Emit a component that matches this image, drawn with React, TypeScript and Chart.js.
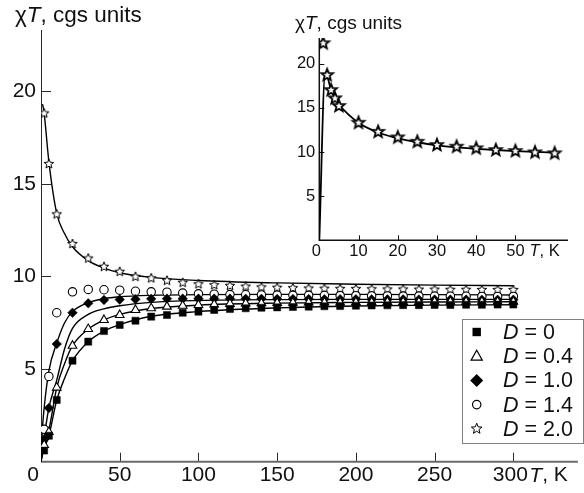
import React, { useEffect, useRef } from 'react';
import { Chart, registerables } from 'chart.js';
Chart.register(...registerables);

// ---------- main panel: measured points ----------
const mainT = [2, 5, 10, 20, 30, 40, 50, 60, 70, 80, 90, 100, 110, 120, 130, 140, 150, 160, 170, 180, 190, 200, 210, 220, 230, 240, 250, 260, 270, 280, 290, 300];
const chiT_D00 = [0.6, 1.4, 3.33, 5.45, 6.48, 7.05, 7.38, 7.61, 7.83, 7.92, 8.04, 8.1, 8.19, 8.24, 8.28, 8.31, 8.33, 8.35, 8.37, 8.39, 8.4, 8.42, 8.43, 8.44, 8.45, 8.45, 8.46, 8.46, 8.47, 8.47, 8.48, 8.48];
const chiT_D04 = [0.9, 1.6, 4.0, 6.26, 7.16, 7.65, 7.92, 8.19, 8.28, 8.37, 8.42, 8.46, 8.49, 8.52, 8.54, 8.56, 8.57, 8.58, 8.59, 8.6, 8.6, 8.61, 8.61, 8.62, 8.62, 8.62, 8.63, 8.63, 8.63, 8.63, 8.64, 8.64];
const chiT_D10 = [1.2, 2.9, 6.35, 8.04, 8.55, 8.73, 8.75, 8.77, 8.79, 8.8, 8.8, 8.8, 8.8, 8.8, 8.79, 8.79, 8.78, 8.78, 8.78, 8.77, 8.77, 8.77, 8.76, 8.76, 8.76, 8.75, 8.75, 8.75, 8.75, 8.74, 8.74, 8.74];
const chiT_D14 = [1.75, 4.6, 8.04, 9.17, 9.3, 9.28, 9.26, 9.2, 9.17, 9.15, 9.1, 9.06, 9.04, 9.02, 9.01, 9.0, 8.99, 8.98, 8.98, 8.97, 8.96, 8.96, 8.95, 8.95, 8.94, 8.94, 8.93, 8.93, 8.93, 8.92, 8.92, 8.92];
const chiT_D20 = [18.8, 16.07, 13.35, 11.75, 10.97, 10.52, 10.25, 9.98, 9.9, 9.77, 9.66, 9.58, 9.53, 9.49, 9.45, 9.41, 9.39, 9.37, 9.35, 9.34, 9.33, 9.32, 9.31, 9.3, 9.3, 9.29, 9.29, 9.28, 9.28, 9.27, 9.27, 9.27];

// ---------- main panel: fitted curves ----------
const fitT = [0, 1, 2, 5, 10, 15, 20, 30, 40, 50, 70, 100, 150, 200, 250, 300];
const fit_D00 = [0, 0.4, 0.7, 1.4, 3.33, 4.5, 5.45, 6.48, 7.05, 7.4, 7.85, 8.1, 8.3, 8.4, 8.45, 8.47];
const fit_D04 = [0, 0.5, 0.9, 1.7, 4.0, 5.3, 6.26, 7.16, 7.65, 7.95, 8.27, 8.45, 8.56, 8.6, 8.62, 8.63];
const fit_D10 = [0, 0.7, 1.3, 2.9, 4.4, 6.1, 7.2, 7.95, 8.25, 8.42, 8.6, 8.7, 8.75, 8.76, 8.76, 8.76];
const fit_D14 = [0, 1.9, 2.9, 4.9, 6.4, 7.5, 8.1, 8.58, 8.8, 8.9, 8.98, 9.02, 9.03, 9.03, 9.02, 9.0];
const fit_D20 = [null, 19.3, 18.8, 16.2, 13.4, 12.3, 11.6, 10.85, 10.45, 10.2, 9.95, 9.78, 9.65, 9.58, 9.53, 9.5];

// ---------- inset (D = 2.0, low T) ----------
const insetT = [1, 2, 3, 4, 5, 10, 15, 20, 25, 30, 35, 40, 45, 50, 55, 60];
const insetChiT = [22.3, 18.7, 17.0, 16.07, 15.2, 13.3, 12.28, 11.65, 11.15, 10.78, 10.59, 10.41, 10.21, 10.1, 9.95, 9.84];
const insetFitT = [0, 1.5, 2, 3, 4, 5, 10, 15, 20, 25, 30, 35, 40, 45, 50, 55, 60];
const insetFit = [0, 18.9, 18.6, 17.0, 16.1, 15.4, 13.3, 12.2, 11.55, 11.1, 10.75, 10.52, 10.36, 10.22, 10.1, 10.0, 9.92];

// ---------- ticks / labels ----------
const mainXTicks = [0, 50, 100, 150, 200, 250, 300];
const mainYTicks = [5, 10, 15, 20];
const insetXTicks = [0, 10, 20, 30, 40, 50];
const insetYTicks = [5, 10, 15, 20];
const legendD = ['0', '0.4', '1.0', '1.4', '2.0'];
const markerKinds = ['square', 'triangle', 'diamond', 'circle', 'star'];

const FONT = "'Liberation Sans', Arial, Helvetica, sans-serif";
const fnt = (size: number, italic = false) => `${italic ? 'italic ' : ''}${size}px ${FONT}`;

function drawParts(ctx: CanvasRenderingContext2D, x: number, y: number, parts: Array<[string, boolean]>, size: number) {
  ctx.textAlign = 'left';
  let cx = x;
  for (const [t, it] of parts) {
    ctx.font = fnt(size, it);
    ctx.fillText(t, cx, y);
    cx += ctx.measureText(t).width;
  }
}

function starPath(ctx: CanvasRenderingContext2D, cx: number, cy: number, R: number, r: number) {
  ctx.beginPath();
  for (let i = 0; i < 10; i++) {
    const ang = -Math.PI / 2 + (i * Math.PI) / 5;
    const rad = i % 2 === 0 ? R : r;
    const px = cx + rad * Math.cos(ang);
    const py = cy + rad * Math.sin(ang);
    if (i === 0) ctx.moveTo(px, py); else ctx.lineTo(px, py);
  }
  ctx.closePath();
}

function makeStar(R: number, r: number, lw: number) {
  const s = Math.ceil(2 * R + lw + 3);
  const c = document.createElement('canvas');
  c.width = s; c.height = s;
  const g = c.getContext('2d')!;
  starPath(g, s / 2, s / 2, R, r);
  g.fillStyle = '#fff'; g.fill();
  g.lineWidth = lw; g.strokeStyle = '#000'; g.lineJoin = 'miter'; g.stroke();
  return c;
}

function drawMarker(ctx: CanvasRenderingContext2D, kind: string, cx: number, cy: number) {
  ctx.save();
  ctx.strokeStyle = '#000'; ctx.fillStyle = '#000'; ctx.lineWidth = 1.2;
  if (kind === 'square') {
    ctx.fillRect(cx - 4.2, cy - 4.2, 8.4, 8.4);
  } else if (kind === 'triangle') {
    ctx.beginPath(); ctx.moveTo(cx, cy - 6); ctx.lineTo(cx + 5.6, cy + 4); ctx.lineTo(cx - 5.6, cy + 4); ctx.closePath();
    ctx.fillStyle = '#fff'; ctx.fill(); ctx.stroke();
  } else if (kind === 'diamond') {
    ctx.beginPath(); ctx.moveTo(cx, cy - 6.5); ctx.lineTo(cx + 6.5, cy); ctx.lineTo(cx, cy + 6.5); ctx.lineTo(cx - 6.5, cy); ctx.closePath();
    ctx.fill();
  } else if (kind === 'circle') {
    ctx.beginPath(); ctx.arc(cx, cy, 4.2, 0, Math.PI * 2); ctx.fillStyle = '#fff'; ctx.fill(); ctx.stroke();
  } else {
    starPath(ctx, cx, cy, 5.6, 2.4); ctx.fillStyle = '#fff'; ctx.fill(); ctx.lineWidth = 1; ctx.stroke();
  }
  ctx.restore();
}

const mainAxes = {
  id: 'mainAxes',
  beforeDatasetsDraw(chart: any) {
    const { ctx, chartArea: a, scales: { x, y } } = chart;
    ctx.save();
    ctx.strokeStyle = '#2a2a2a'; ctx.lineWidth = 1;
    ctx.beginPath(); ctx.moveTo(a.left + 0.5, a.top); ctx.lineTo(a.left + 0.5, a.bottom); ctx.stroke();
    for (const v of mainYTicks) {
      const py = Math.round(y.getPixelForValue(v)) + 0.5;
      ctx.beginPath(); ctx.moveTo(a.left, py); ctx.lineTo(a.left + 10, py); ctx.stroke();
    }
    for (const v of mainXTicks) {
      if (v === 0) continue;
      const px = Math.round(x.getPixelForValue(v)) + 0.5;
      ctx.beginPath(); ctx.moveTo(px, a.bottom); ctx.lineTo(px, a.bottom - 9); ctx.stroke();
    }
    ctx.strokeStyle = '#6a6a6a'; ctx.lineWidth = 2;
    ctx.beginPath(); ctx.moveTo(a.left, a.bottom); ctx.lineTo(a.right, a.bottom); ctx.stroke();
    ctx.restore();
  },
  afterDraw(chart: any) {
    const { ctx, chartArea: a, scales: { x, y } } = chart;
    ctx.save();
    ctx.fillStyle = '#111';
    ctx.font = fnt(21);
    ctx.textBaseline = 'middle';
    ctx.textAlign = 'right';
    for (const v of mainYTicks) ctx.fillText(String(v), a.left - 5, y.getPixelForValue(v));
    ctx.textAlign = 'center';
    for (const v of mainXTicks) {
      const px = x.getPixelForValue(v);
      ctx.fillText(String(v), v === 0 ? px - 8 : (v === 300 ? px - 3 : px), a.bottom + 14);
    }
    ctx.textBaseline = 'middle';
    drawParts(ctx, x.getPixelForValue(300) + 16, a.bottom + 14, [['T', true], [', K', false]], 21);
    // y title
    ctx.textBaseline = 'alphabetic';
    drawParts(ctx, 15, 22, [['χ', false], ['T', true], [', cgs units', false]], 22.5);
    // legend
    const L = 462.5, T = 319.5, R = 583.5, B = 443.5;
    ctx.strokeStyle = '#808080'; ctx.lineWidth = 1;
    ctx.fillStyle = '#fff';
    ctx.fillRect(L, T, R - L, B - T);
    ctx.strokeRect(L, T, R - L, B - T);
    ctx.fillStyle = '#111';
    ctx.textBaseline = 'middle';
    legendD.forEach((d, i) => {
      const cy = 332 + i * 24.2;
      drawMarker(ctx, markerKinds[i], 476.7, cy);
      ctx.fillStyle = '#111';
      drawParts(ctx, 503, cy + 1, [['D', true], [' = ' + d, false]], 21.5);
    });
    ctx.restore();
  },
};

const insetAxes = {
  id: 'insetAxes',
  beforeDatasetsDraw(chart: any) {
    const { ctx, chartArea: a, scales: { x, y } } = chart;
    ctx.save();
    ctx.strokeStyle = '#111'; ctx.lineWidth = 1.5;
    ctx.beginPath(); ctx.moveTo(a.left, a.top); ctx.lineTo(a.left, a.bottom); ctx.lineTo(a.right, a.bottom); ctx.stroke();
    ctx.lineWidth = 1;
    for (const v of insetYTicks) {
      const py = Math.round(y.getPixelForValue(v)) + 0.5;
      ctx.beginPath(); ctx.moveTo(a.left, py); ctx.lineTo(a.left + 5, py); ctx.stroke();
    }
    for (const v of insetXTicks) {
      if (v === 0) continue;
      const px = Math.round(x.getPixelForValue(v)) + 0.5;
      ctx.beginPath(); ctx.moveTo(px, a.bottom); ctx.lineTo(px, a.bottom - 5); ctx.stroke();
    }
    ctx.restore();
  },
  afterDraw(chart: any) {
    const { ctx, chartArea: a, scales: { x, y } } = chart;
    ctx.save();
    ctx.fillStyle = '#111';
    ctx.font = fnt(16.5);
    ctx.textBaseline = 'middle';
    ctx.textAlign = 'right';
    for (const v of insetYTicks) ctx.fillText(String(v), a.left - 4, y.getPixelForValue(v));
    ctx.textAlign = 'center';
    for (const v of insetXTicks) {
      const px = x.getPixelForValue(v);
      ctx.fillText(String(v), v === 0 ? px - 3 : px, a.bottom + 11);
    }
    drawParts(ctx, x.getPixelForValue(50) + 14, a.bottom + 11, [['T', true], [', K', false]], 16.5);
    ctx.textBaseline = 'alphabetic';
    drawParts(ctx, 295, 29, [['χ', false], ['T', true], [', cgs units', false]], 19);
    ctx.restore();
  },
};

const pts = (xs: number[], ys: Array<number | null>) => xs.map((v, i) => ({ x: v, y: ys[i] }));

export default function App() {
  const mainRef = useRef<HTMLCanvasElement>(null);
  const insetRef = useRef<HTMLCanvasElement>(null);

  useEffect(() => {
    const starMain = makeStar(5, 2.2, 1);
    const starInset = makeStar(6.2, 2.7, 1.8);
    const lineDs = (ys: Array<number | null>) => ({
      data: pts(fitT, ys), showLine: true, pointRadius: 0, borderColor: '#000', borderWidth: 1.4,
      cubicInterpolationMode: 'monotone' as const, fill: false, order: 2,
    });
    const open = { backgroundColor: '#fff', borderColor: '#000', pointBorderWidth: 1.1, order: 1, showLine: false };
    const filled = { backgroundColor: '#000', borderColor: '#000', pointBorderWidth: 0.5, order: 1, showLine: false };

    const main = new Chart(mainRef.current!, {
      type: 'scatter',
      data: {
        datasets: [
          { label: 'D = 0', data: pts(mainT, chiT_D00), pointStyle: 'rect', pointRadius: 5, ...filled },
          { label: 'D = 0.4', data: pts(mainT, chiT_D04), pointStyle: 'triangle', pointRadius: 5, ...open },
          { label: 'D = 1.0', data: pts(mainT, chiT_D10), pointStyle: 'rectRot', pointRadius: 4.8, ...filled },
          { label: 'D = 1.4', data: pts(mainT, chiT_D14), pointStyle: 'circle', pointRadius: 4.2, ...open },
          { label: 'D = 2.0', data: pts(mainT, chiT_D20), pointStyle: starMain as any, pointRadius: 5, ...open },
          lineDs(fit_D00) as any,
          lineDs(fit_D04) as any,
          lineDs(fit_D10) as any,
          lineDs(fit_D14) as any,
          lineDs(fit_D20) as any,
        ],
      },
      options: {
        animation: false,
        responsive: false,
        devicePixelRatio: 1,
        layout: { padding: { left: 41, top: 30, right: 0, bottom: 31.3 } },
        scales: {
          x: { type: 'linear', min: 0, max: 341, display: false },
          y: { type: 'linear', min: 0, max: 23.3, display: false },
        },
        plugins: { legend: { display: false }, tooltip: { enabled: false } },
        events: [],
      },
      plugins: [mainAxes],
    });

    const inset = new Chart(insetRef.current!, {
      type: 'scatter',
      data: {
        datasets: [
          { label: 'D = 2.0', data: pts(insetT, insetChiT), pointStyle: starInset as any, pointRadius: 6, ...open },
          {
            data: pts(insetFitT, insetFit), showLine: true, pointRadius: 0, borderColor: '#000', borderWidth: 1.8,
            cubicInterpolationMode: 'monotone', fill: false, order: 2,
          } as any,
        ],
      },
      options: {
        animation: false,
        responsive: false,
        devicePixelRatio: 1,
        layout: { padding: { left: 319.3, top: 38, right: 16, bottom: 252.7 } },
        scales: {
          x: { type: 'linear', min: 0, max: 63.4, display: false },
          y: { type: 'linear', min: 0, max: 22.9, display: false },
        },
        plugins: { legend: { display: false }, tooltip: { enabled: false } },
        events: [],
      },
      plugins: [insetAxes],
    });

    return () => { main.destroy(); inset.destroy(); };
  }, []);

  const cs: React.CSSProperties = { position: 'absolute', left: 0, top: 0, width: 584, height: 493 };
  return (
    <div style={{ position: 'fixed', left: 0, top: 0, width: 584, height: 493, background: '#fff', overflow: 'hidden' }}>
      <canvas ref={mainRef} width={584} height={493} style={cs} />
      <canvas ref={insetRef} width={584} height={493} style={cs} />
    </div>
  );
}
